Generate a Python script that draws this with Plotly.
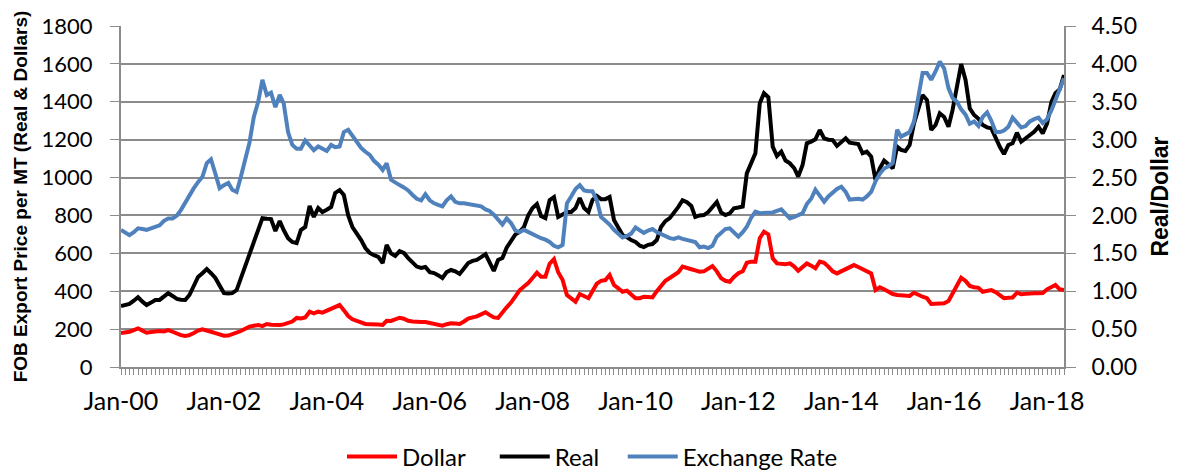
import plotly.graph_objects as go
import pandas as pd

dollar = [179, 182, 186, 195, 204, 192, 181, 185, 188, 190, 188, 195, 186, 175, 168, 164, 168, 179, 192, 199,
          195, 186, 179, 172, 165, 166, 172, 180, 190, 202, 213, 218, 222, 216, 227, 223, 220, 222, 225, 230,
          240, 259, 256, 262, 292, 283, 292, 287, 297, 310, 322, 327, 300, 269, 252, 244, 236, 227, 226, 227,
          224, 222, 244, 243, 250, 260, 255, 244, 240, 237, 237, 237, 231, 228, 222, 218, 226, 231, 230, 227,
          240, 255, 262, 267, 278, 289, 275, 262, 259, 292, 315, 340, 371, 405, 425, 443, 470, 498, 477, 477,
          545, 570, 500, 460, 380, 363, 345, 385, 375, 363, 400, 440, 455, 459, 486, 433, 415, 397, 403, 385,
          363, 363, 371, 369, 367, 400, 430, 455, 470, 488, 500, 530, 525, 516, 510, 503, 505, 520, 533, 505,
          468, 455, 450, 475, 495, 505, 550, 556, 556, 680, 714, 700, 574, 547, 545, 543, 547, 530, 508, 525,
          547, 535, 521, 556, 550, 530, 505, 494, 505, 517, 530, 538, 528, 517, 505, 494, 406, 421, 410, 395,
          385, 380, 378, 376, 375, 392, 380, 371, 363, 333, 334, 335, 336, 348, 389, 430, 471, 454, 428, 421,
          418, 397, 400, 406, 395, 375, 363, 365, 367, 392, 384, 386, 389, 389, 389, 390, 410, 425, 433, 410,
          406]

real = [322, 325, 333, 350, 368, 345, 327, 340, 354, 354, 370, 390, 375, 359, 355, 354, 380, 430, 475, 495,
        517, 495, 470, 430, 390, 388, 390, 406, 470, 528, 590, 654, 720, 786, 783, 781, 718, 771, 723, 680,
        660, 654, 723, 739, 850, 792, 839, 818, 830, 845, 919, 934, 908, 800, 739, 707, 670, 628, 602, 590,
        581, 549, 644, 600, 586, 612, 602, 575, 549, 530, 523, 528, 501, 496, 485, 470, 501, 512, 505, 491,
        520, 549, 560, 565, 580, 596, 554, 507, 565, 575, 630, 670, 700, 713, 739, 800, 839, 860, 797, 786,
        881, 897, 792, 805, 818, 818, 839, 892, 839, 818, 881, 903, 886, 886, 897, 776, 730, 697, 686, 670,
        660, 640, 633, 645, 649, 670, 739, 770, 786, 813, 845, 880, 870, 850, 792, 800, 802, 818, 845, 871,
        815, 802, 811, 838, 842, 847, 1022, 1080, 1128, 1392, 1445, 1424, 1163, 1114, 1137, 1090, 1075, 1049, 1005, 1066,
        1181, 1190, 1202, 1251, 1207, 1200, 1198, 1167, 1190, 1207, 1184, 1180, 1177, 1128, 1137, 1110, 987, 1049, 1089, 1070,
        1049, 1163, 1146, 1140, 1172, 1286, 1360, 1436, 1409, 1251, 1277, 1339, 1320, 1268, 1357, 1480, 1599, 1515, 1365, 1330,
        1310, 1277, 1265, 1260, 1207, 1160, 1124, 1172, 1181, 1237, 1189, 1207, 1225, 1242, 1268, 1233, 1286, 1400, 1445, 1466,
        1541]

exchange = [1.81, 1.78, 1.74, 1.78, 1.83, 1.82, 1.81, 1.83, 1.85, 1.87, 1.93, 1.96, 1.96, 2.00, 2.07, 2.17, 2.27, 2.36, 2.44, 2.51,
            2.69, 2.74, 2.55, 2.36, 2.40, 2.43, 2.34, 2.31, 2.51, 2.75, 2.96, 3.30, 3.50, 3.79, 3.59, 3.62, 3.43, 3.59, 3.48, 3.10,
            2.93, 2.88, 2.88, 2.99, 2.92, 2.86, 2.91, 2.88, 2.85, 2.93, 2.90, 2.91, 3.10, 3.13, 3.05, 2.99, 2.89, 2.84, 2.80, 2.72,
            2.67, 2.60, 2.69, 2.47, 2.43, 2.40, 2.37, 2.33, 2.27, 2.22, 2.20, 2.28, 2.20, 2.16, 2.14, 2.12, 2.20, 2.25, 2.18, 2.16,
            2.16, 2.15, 2.15, 2.14, 2.12, 2.08, 2.06, 2.01, 1.95, 1.88, 1.96, 1.90, 1.80, 1.78, 1.81, 1.78, 1.75, 1.72, 1.70, 1.68,
            1.65, 1.60, 1.58, 1.61, 2.16, 2.25, 2.35, 2.40, 2.33, 2.32, 2.32, 2.20, 1.98, 1.93, 1.88, 1.81, 1.76, 1.71, 1.73, 1.76,
            1.84, 1.80, 1.77, 1.80, 1.82, 1.78, 1.75, 1.72, 1.70, 1.69, 1.71, 1.69, 1.68, 1.67, 1.65, 1.58, 1.59, 1.57, 1.60, 1.72,
            1.78, 1.82, 1.83, 1.77, 1.72, 1.78, 1.85, 1.97, 2.05, 2.03, 2.03, 2.03, 2.04, 2.06, 2.08, 2.02, 1.96, 1.98, 2.00, 2.03,
            2.15, 2.22, 2.34, 2.26, 2.18, 2.25, 2.31, 2.35, 2.38, 2.31, 2.21, 2.22, 2.22, 2.21, 2.25, 2.31, 2.45, 2.55, 2.62, 2.65,
            2.69, 3.13, 3.04, 3.07, 3.10, 3.24, 3.55, 3.88, 3.88, 3.79, 3.90, 4.03, 3.94, 3.68, 3.55, 3.50, 3.40, 3.33, 3.21, 3.24,
            3.18, 3.30, 3.36, 3.25, 3.10, 3.10, 3.12, 3.17, 3.29, 3.22, 3.16, 3.18, 3.24, 3.27, 3.29, 3.22, 3.27, 3.39, 3.52, 3.66,
            3.81]

start_month = "2000-01-01"
left_ticks = list(range(0, 1801, 200))
right_ticks = [i * 0.5 for i in range(10)]
xtick_dates = pd.date_range("2000-01-01", "2018-01-01", freq="24MS")
xtick_labels = [d.strftime("%b-%y") for d in xtick_dates]

d_dates = pd.date_range(start_month, periods=len(dollar), freq="MS")
r_dates = pd.date_range(start_month, periods=len(real), freq="MS")
e_dates = pd.date_range(start_month, periods=len(exchange), freq="MS")

FONT = "Lato, Liberation Sans, sans-serif"
TFONT = "Liberation Sans, Arial, sans-serif"
GRID = "#8c8c8c"
NB = "\u00a0"

fig = go.Figure()
fig.add_trace(go.Scatter(x=d_dates, y=dollar, name="Dollar" + NB * 4, mode="lines",
                         line=dict(color="#FF0000", width=4)))
fig.add_trace(go.Scatter(x=r_dates, y=real, name="Real" + NB * 3, mode="lines",
                         line=dict(color="#000000", width=4)))
fig.add_trace(go.Scatter(x=e_dates, y=exchange, name="Exchange Rate", mode="lines", yaxis="y2",
                         line=dict(color="#4F81BD", width=4)))

fig.update_layout(
    width=1169, height=462,
    margin=dict(l=113, r=113, t=18, b=103, autoexpand=False),
    paper_bgcolor="white", plot_bgcolor="white",
    font=dict(family=FONT, size=22, color="#000000"),
    showlegend=True,
    legend=dict(orientation="h", x=0.5, xanchor="center", y=-0.264, yanchor="middle",
                font=dict(family=FONT, size=24), itemwidth=50, tracegroupgap=0),
    xaxis=dict(
        type="date", automargin=False,
        range=[d_dates[0], d_dates[-1]],
        tickvals=list(xtick_dates), ticktext=xtick_labels,
        showgrid=False, zeroline=False,
        showline=True, linecolor=GRID, linewidth=2,
        ticks="outside", ticklen=6, tickcolor=GRID,
        minor=dict(dtick="M1", ticks="outside", ticklen=6, tickcolor=GRID, showgrid=False),
        tickfont=dict(family=FONT, size=25),
        ticklabelstandoff=5,
    ),
    yaxis=dict(
        range=[0, 1800], tickvals=left_ticks, automargin=False,
        showgrid=True, gridcolor=GRID, gridwidth=1.5,
        zeroline=False, showline=True, linecolor=GRID, linewidth=2,
        ticks="outside", ticklen=9, tickcolor=GRID,
        tickfont=dict(family=FONT, size=22),
        ticklabelstandoff=13,
        title=dict(text="<b>FOB Export Price per MT (Real & Dollars)</b>",
                   font=dict(family=TFONT, size=19), standoff=9),
    ),
    yaxis2=dict(
        range=[0, 4.5], tickvals=right_ticks, tickformat=".2f", automargin=False,
        overlaying="y", side="right",
        showgrid=False, zeroline=False, showline=True, linecolor=GRID, linewidth=2,
        ticks="outside", ticklen=10, tickcolor=GRID,
        tickfont=dict(family=FONT, size=23),
        ticklabelstandoff=11,
        title=dict(text="<b>Real/Dollar</b>",
                   font=dict(family=TFONT, size=23), standoff=16),
    ),
)

fig.write_html("out.html")
